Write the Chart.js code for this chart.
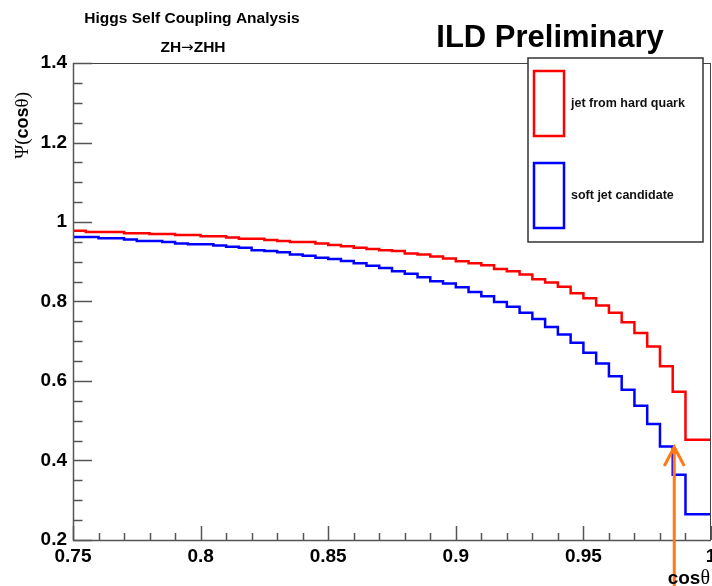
<!DOCTYPE html>
<html>
<head>
<meta charset="utf-8">
<script src="https://cdn.jsdelivr.net/npm/chart.js@4.4.0/dist/chart.umd.min.js"></script>
<style>
  body { margin: 0; background: #fff; }
  canvas { display: block; }
</style>
</head>
<body>
<canvas id="psiChart" width="712" height="586"></canvas>
<script>
// bin edges in cos(theta), 50 bins of 0.005
const binEdges = [0.75, 0.755, 0.76, 0.765, 0.77, 0.775, 0.78, 0.785, 0.79, 0.795,
  0.8, 0.805, 0.81, 0.815, 0.82, 0.825, 0.83, 0.835, 0.84, 0.845,
  0.85, 0.855, 0.86, 0.865, 0.87, 0.875, 0.88, 0.885, 0.89, 0.895,
  0.9, 0.905, 0.91, 0.915, 0.92, 0.925, 0.93, 0.935, 0.94, 0.945,
  0.95, 0.955, 0.96, 0.965, 0.97, 0.975, 0.98, 0.985, 0.99, 0.995, 1.0];

const hardQuark = [0.978, 0.978, 0.975, 0.975, 0.975, 0.972, 0.972, 0.970, 0.970, 0.967,
  0.967, 0.964, 0.964, 0.961, 0.958, 0.958, 0.955, 0.952, 0.950, 0.950,
  0.946, 0.942, 0.939, 0.935, 0.932, 0.929, 0.927, 0.921, 0.918, 0.913,
  0.908, 0.901, 0.896, 0.891, 0.882, 0.876, 0.868, 0.856, 0.848, 0.837,
  0.821, 0.808, 0.790, 0.772, 0.748, 0.721, 0.687, 0.637, 0.573, 0.452];

const softJet = [0.965, 0.962, 0.962, 0.959, 0.959, 0.956, 0.952, 0.952, 0.950, 0.946,
  0.944, 0.944, 0.941, 0.938, 0.935, 0.929, 0.927, 0.924, 0.918, 0.915,
  0.910, 0.907, 0.902, 0.896, 0.890, 0.884, 0.876, 0.870, 0.861, 0.851,
  0.845, 0.836, 0.824, 0.813, 0.799, 0.787, 0.772, 0.756, 0.736, 0.717,
  0.696, 0.671, 0.644, 0.612, 0.578, 0.538, 0.492, 0.435, 0.364, 0.265];

const seriesLabels = ['jet from hard quark', 'soft jet candidate'];
const xTickLabels = ['0.75', '0.8', '0.85', '0.9', '0.95', '1'];
const yTickLabels = ['0.2', '0.4', '0.6', '0.8', '1', '1.2', '1.4'];

// orange marker arrow (cos theta, tip value)
const arrowX = 0.9856;
const arrowTip = 0.434;

const FONT = '"Liberation Sans", Arial, Helvetica, sans-serif';
const SERIF = '"Liberation Serif", "DejaVu Serif", serif';

function histPoints(vals) {
  return binEdges.map((e, i) => ({ x: e, y: vals[Math.min(i, vals.length - 1)] }));
}

const rootStyle = {
  id: 'rootStyle',
  afterDatasetsDraw(chart) {
    const ctx = chart.ctx;
    const a = chart.chartArea;
    const xs = chart.scales.x, ys = chart.scales.y;
    ctx.save();

    // frame
    ctx.strokeStyle = '#444';
    ctx.lineWidth = 1;
    ctx.strokeRect(a.left + 0.5, a.top + 0.5, a.right - a.left - 1, a.bottom - a.top);

    // ticks inside the frame
    ctx.strokeStyle = '#555';
    ctx.lineWidth = 1.5;
    ctx.beginPath();
    for (let k = 0; k <= 25; k++) {
      const v = 0.75 + k * 0.01;
      const px = Math.round(xs.getPixelForValue(v)) + 0.5;
      const len = k % 5 === 0 ? 14 : 7;
      ctx.moveTo(px, a.bottom);
      ctx.lineTo(px, a.bottom - len);
    }
    for (let k = 0; k <= 24; k++) {
      const v = 0.2 + k * 0.05;
      const py = Math.round(ys.getPixelForValue(v)) + 0.5;
      const len = k % 4 === 0 ? 19 : 9.5;
      ctx.moveTo(a.left, py);
      ctx.lineTo(a.left + len, py);
    }
    ctx.stroke();

    // axes lines
    ctx.beginPath();
    ctx.moveTo(a.left + 0.5, a.top);
    ctx.lineTo(a.left + 0.5, a.bottom + 0.5);
    ctx.lineTo(a.right, a.bottom + 0.5);
    ctx.stroke();

    // legend
    ctx.fillStyle = '#fff';
    ctx.fillRect(528, 58, 175, 184);
    ctx.strokeStyle = '#333';
    ctx.lineWidth = 1.5;
    ctx.strokeRect(528, 58, 175, 184);
    const rows = [71, 163];
    chart.data.datasets.forEach((ds, i) => {
      ctx.strokeStyle = ds.borderColor;
      ctx.lineWidth = 2.5;
      ctx.strokeRect(534, rows[i], 30, 65);
      ctx.fillStyle = '#111';
      ctx.font = 'bold 12.5px ' + FONT;
      ctx.textAlign = 'left';
      ctx.textBaseline = 'middle';
      ctx.fillText(ds.label, 571, rows[i] + 33);
    });

    // arrow
    const ax = xs.getPixelForValue(arrowX);
    const ay = ys.getPixelForValue(arrowTip);
    ctx.strokeStyle = '#ff7a14';
    ctx.lineWidth = 3;
    ctx.beginPath();
    ctx.moveTo(ax, chart.height);
    ctx.lineTo(ax, ay);
    ctx.moveTo(ax - 10, ay + 19);
    ctx.lineTo(ax, ay);
    ctx.lineTo(ax + 10, ay + 19);
    ctx.stroke();

    // titles
    ctx.fillStyle = '#000';
    ctx.textBaseline = 'alphabetic';
    ctx.textAlign = 'center';
    ctx.font = 'bold 15.5px ' + FONT;
    ctx.fillText('Higgs Self Coupling Analysis', 192, 23);
    ctx.textAlign = 'left';
    const zh = [['ZH', 'bold 15.5px ' + FONT], ['\u2192', '15px "DejaVu Sans", sans-serif'], ['ZHH', 'bold 15.5px ' + FONT]];
    let zw = 0;
    zh.forEach(p => { ctx.font = p[1]; zw += ctx.measureText(p[0]).width; });
    let zx = 193 - zw / 2;
    zh.forEach(p => { ctx.font = p[1]; ctx.fillText(p[0], zx, 52); zx += ctx.measureText(p[0]).width; });
    ctx.textAlign = 'center';
    ctx.font = 'bold 31px ' + FONT;
    ctx.fillText('ILD Preliminary', 550, 47);

    // x title: cos theta
    ctx.textAlign = 'left';
    ctx.font = 'bold 19px ' + FONT;
    const cosW = ctx.measureText('cos').width;
    ctx.font = '20px ' + SERIF;
    const thW = ctx.measureText('\u03b8').width;
    let tx = 710 - cosW - thW;
    ctx.font = 'bold 19px ' + FONT;
    ctx.fillText('cos', tx, 584);
    ctx.font = '20px ' + SERIF;
    ctx.fillText('\u03b8', tx + cosW, 584);

    // y title: Psi(cos theta), rotated
    ctx.save();
    ctx.translate(28, 92);
    ctx.rotate(-Math.PI / 2);
    const parts = [
      ['\u03a8(', '19px ' + SERIF],
      ['cos', 'bold 18px ' + FONT],
      ['\u03b8)', '19px ' + SERIF]
    ];
    let total = 0;
    parts.forEach(p => { ctx.font = p[1]; total += ctx.measureText(p[0]).width; });
    let px = -total;
    ctx.textAlign = 'left';
    parts.forEach(p => {
      ctx.font = p[1];
      ctx.fillText(p[0], px, 0);
      px += ctx.measureText(p[0]).width;
    });
    ctx.restore();

    ctx.restore();
  }
};

const ctx = document.getElementById('psiChart').getContext('2d');
new Chart(ctx, {
  type: 'line',
  data: {
    datasets: [{
      label: seriesLabels[0],
      data: histPoints(hardQuark),
      borderColor: '#ff0000',
      borderWidth: 2.5,
      stepped: 'after',
      pointRadius: 0,
      fill: false
    }, {
      label: seriesLabels[1],
      data: histPoints(softJet),
      borderColor: '#0000ff',
      borderWidth: 2.5,
      stepped: 'after',
      pointRadius: 0,
      fill: false
    }]
  },
  options: {
    responsive: false,
    animation: false,
    layout: { padding: { top: 63, right: 1, left: 0, bottom: 0 } },
    plugins: {
      legend: { display: false },
      tooltip: { enabled: false }
    },
    scales: {
      x: {
        type: 'linear',
        min: 0.75,
        max: 1.0,
        border: { display: false },
        grid: { display: false, drawTicks: false },
        ticks: {
          stepSize: 0.05,
          padding: 5,
          color: '#000',
          font: { family: FONT, size: 19, weight: 'bold' },
          maxRotation: 0,
          callback: (v, i) => xTickLabels[i]
        },
        afterFit: s => { s.height = 46; s.paddingLeft = 0; s.paddingRight = 0; }
      },
      y: {
        min: 0.2,
        max: 1.4,
        border: { display: false },
        grid: { display: false, drawTicks: false },
        ticks: {
          stepSize: 0.2,
          padding: 6,
          color: '#000',
          font: { family: FONT, size: 19, weight: 'bold' },
          callback: (v, i) => yTickLabels[i]
        },
        afterFit: s => { s.width = 73; s.paddingTop = 0; s.paddingBottom = 0; }
      }
    }
  },
  plugins: [rootStyle]
});
</script>
</body>
</html>
